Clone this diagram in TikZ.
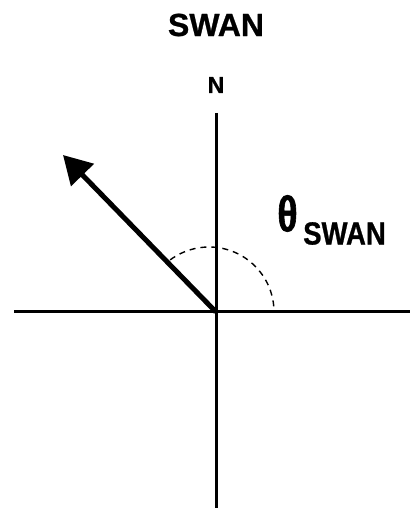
\documentclass[tikz,border=0pt]{standalone}
\usepackage{fontspec}
\setmainfont{Liberation Sans}
\newfontfamily\boldfont[FakeBold=0.8]{Liberation Sans Bold}
\newfontfamily\narrowfont[FakeStretch=0.86,FakeBold=0.8]{Liberation Sans Bold}
\newfontfamily\thetafont[FakeStretch=0.75,FakeBold=1.2]{Liberation Sans Bold}
\usetikzlibrary{arrows.meta}
\begin{document}
\begin{tikzpicture}[x=1pt,y=1pt,
  axis/.style={line width=3pt},
  vec/.style={line width=5pt,-{Triangle[length=28pt,width=31pt]}},
  arcline/.style={line width=1.4pt,dash pattern=on 6pt off 5pt},
  lbl/.style={inner sep=0pt}]
\useasboundingbox (0,0) rectangle (410,517);
\coordinate (O) at (216,205);
\coordinate (top) at (216,404);
\coordinate (bot) at (216,9);
\coordinate (lft) at (14,205);
\coordinate (rgt) at (410,205);
\coordinate (tip) at (63,362);
\coordinate (ac) at (209,205);
\draw[axis] (top) -- (bot);
\draw[axis] (lft) -- (rgt);
\draw[arcline] ([shift={(5:65)}]ac) arc[start angle=5,end angle=128,radius=65];
\draw[vec] (O) -- (tip);
\node[lbl,font=\boldfont\fontsize{32}{32}\selectfont] (title) at (216,492) {SWAN};
\node[lbl,font=\boldfont\fontsize{23}{23}\selectfont] (nlabel) at (216,432) {N};
\node[lbl,font=\thetafont\fontsize{50}{50}\selectfont] (theta) at (287.5,303.5) {θ};
\node[lbl,font=\narrowfont\fontsize{32}{32}\selectfont] (sub) at (344.5,283.5) {SWAN};
\end{tikzpicture}
\end{document}
